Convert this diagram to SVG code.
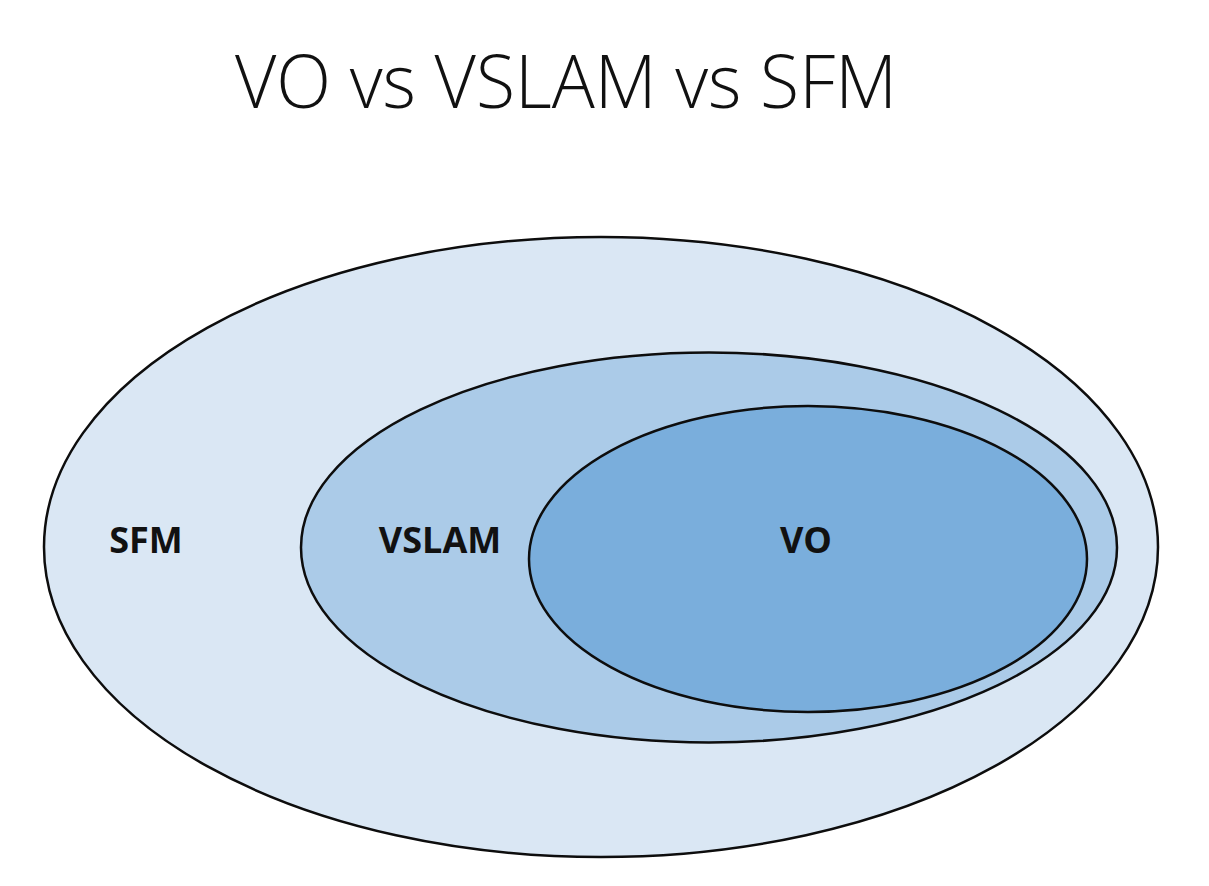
<svg xmlns="http://www.w3.org/2000/svg" width="1209" height="886" viewBox="0 0 1209 886">
<style>
.set{stroke:#0d0d0d;stroke-width:2.5}
.lbl{font-family:"Open Sans","Liberation Sans",sans-serif;font-weight:700;font-size:36px;fill:#111;text-anchor:middle}
.title{font-family:"Open Sans","Liberation Sans",sans-serif;font-weight:300;font-size:73px;fill:#111;text-anchor:middle}
</style>
<rect width="1209" height="886" fill="#ffffff"/>
<text class="title" x="566" y="108" textLength="662" lengthAdjust="spacingAndGlyphs">VO vs VSLAM vs SFM</text>
<g id="sfm">
<ellipse class="set" cx="601" cy="547" rx="557" ry="310" fill="#dae7f4"/>
<text class="lbl" x="146" y="553">SFM</text>
</g>
<g id="vslam">
<ellipse class="set" cx="709" cy="547.5" rx="408" ry="195" fill="#abcbe8"/>
<text class="lbl" x="440" y="553">VSLAM</text>
</g>
<g id="vo">
<ellipse class="set" cx="808" cy="559" rx="279" ry="153" fill="#7aaedc"/>
<text class="lbl" x="806" y="553">VO</text>
</g>
<g id="connectors"></g>
</svg>
